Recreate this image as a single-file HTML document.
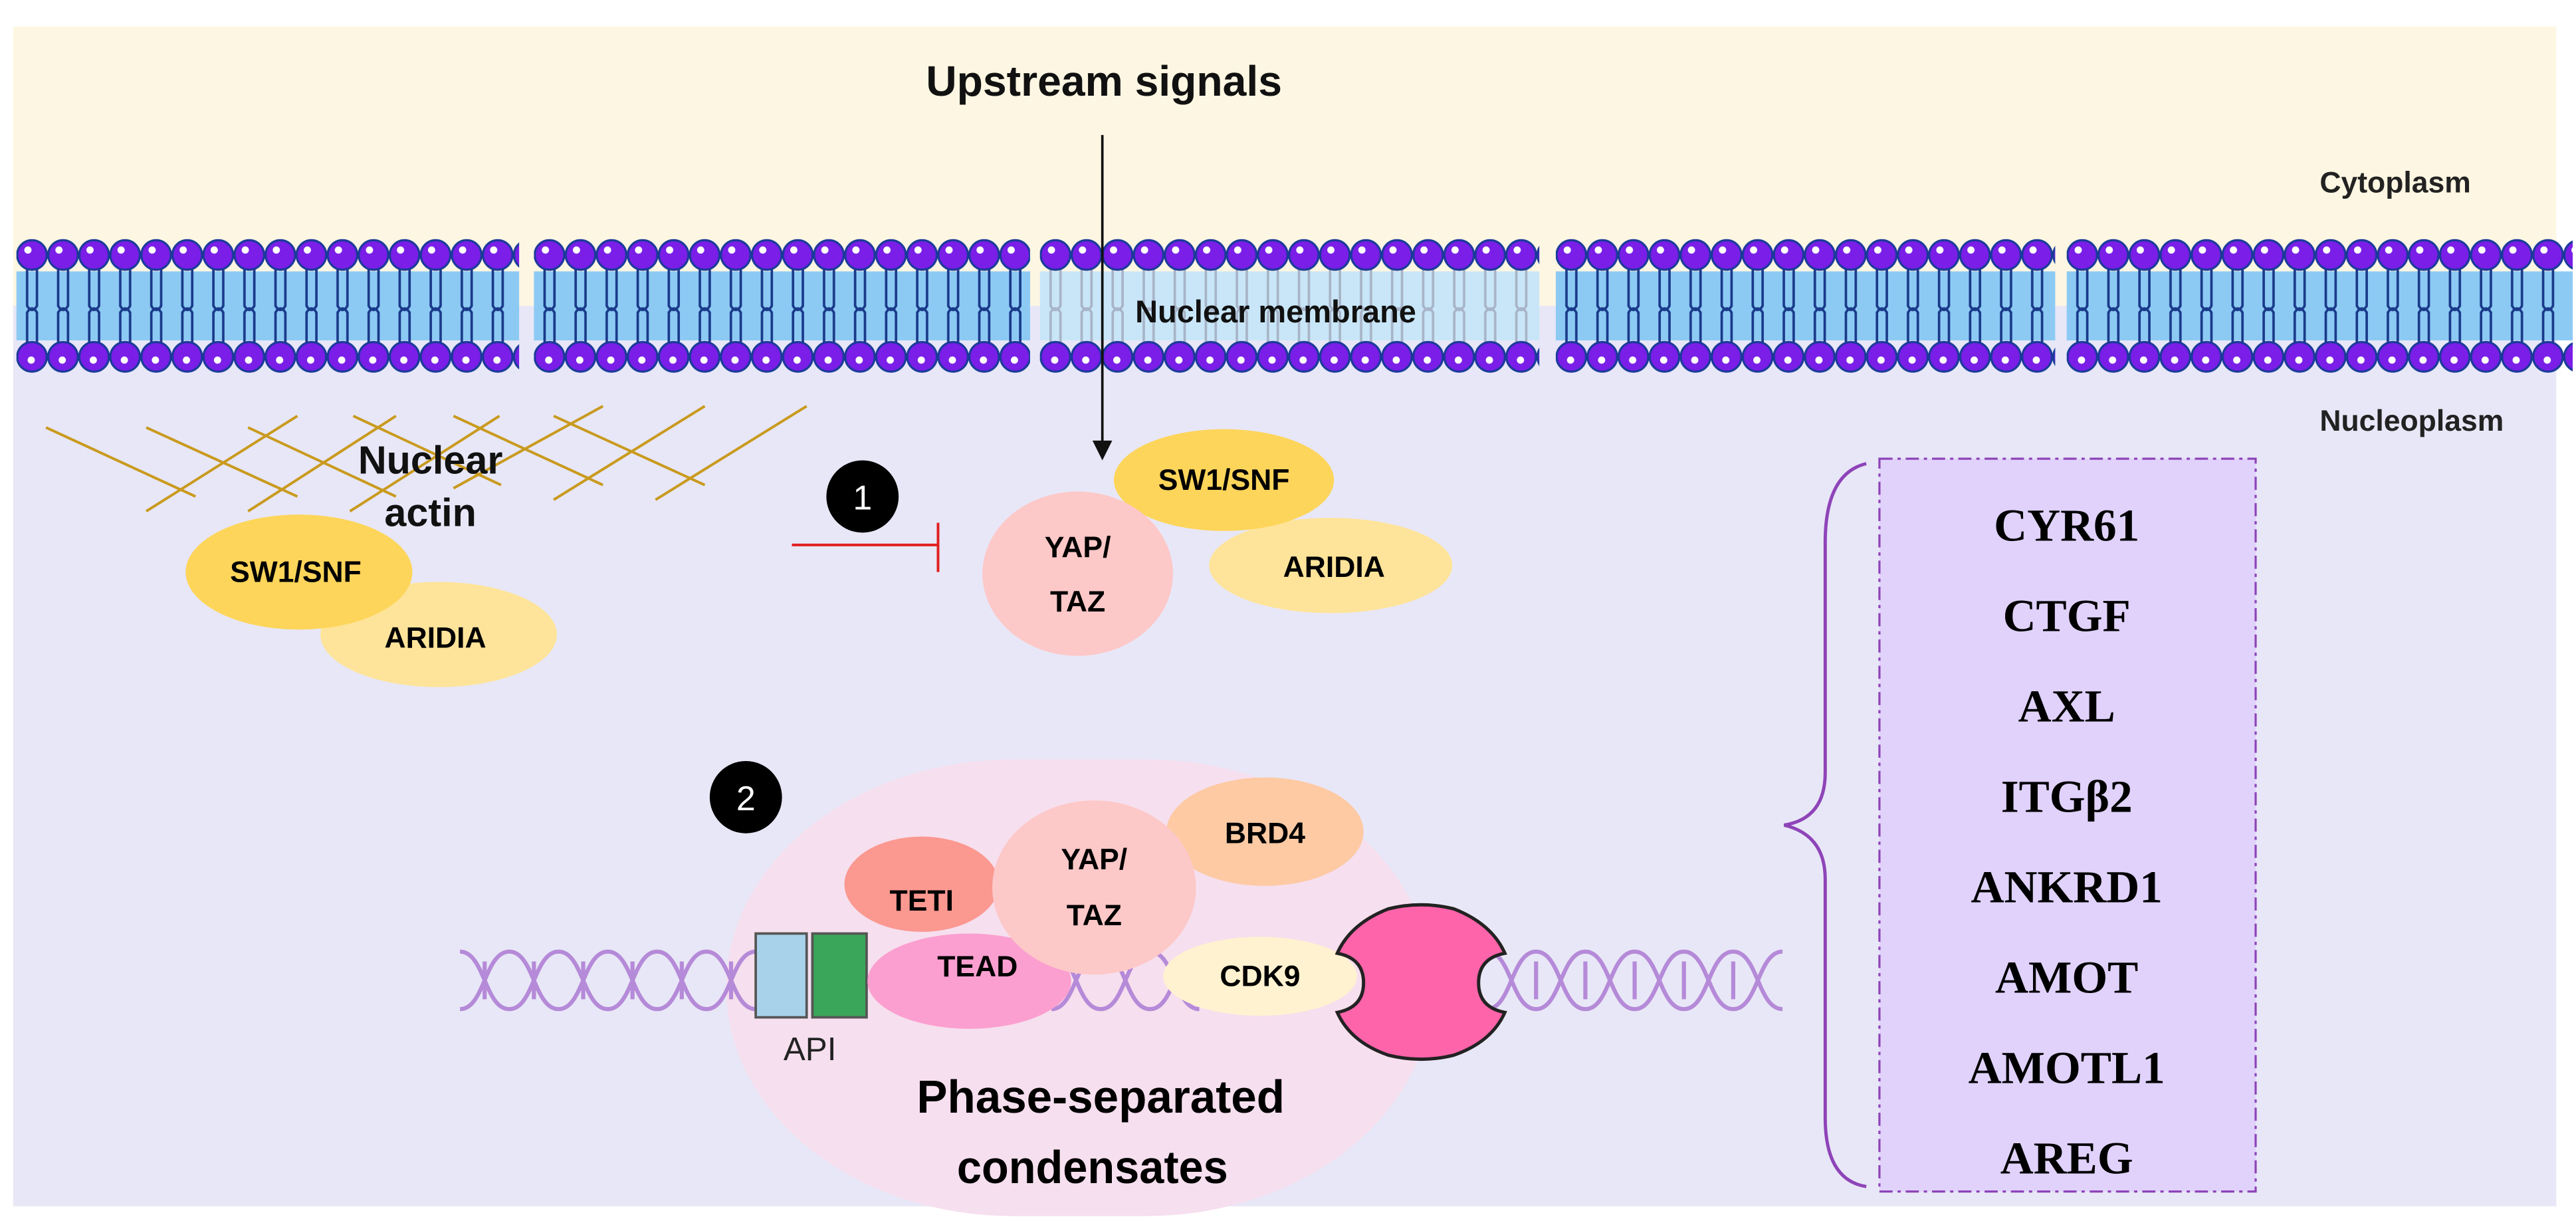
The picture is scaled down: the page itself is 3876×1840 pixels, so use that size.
<!DOCTYPE html>
<html><head><meta charset="utf-8"><style>html,body{margin:0;padding:0;background:#fff}svg{display:block}</style></head>
<body>
<svg width="3876" height="1840" viewBox="0 0 1568 744" xmlns="http://www.w3.org/2000/svg" font-family="Liberation Sans, sans-serif">
<defs>
<pattern id="lip" x="0" y="0" width="18.9" height="744" patternUnits="userSpaceOnUse">
<path d="M6.5 163 V186 q3 5 6 0 V163 M6.5 210 V190 q3 -5 6 0 V210" stroke="#1a3a8a" stroke-width="1.5" fill="none"/>
<circle cx="9.45" cy="155" r="9" fill="#7a1ee8" stroke="#1a3a9a" stroke-width="1.3"/>
<circle cx="7" cy="152" r="2.2" fill="#fff"/>
<circle cx="9.45" cy="217" r="9" fill="#7a1ee8" stroke="#1a3a9a" stroke-width="1.3"/>
<circle cx="9" cy="219" r="2.2" fill="#fff"/>
</pattern>
<pattern id="lip2" x="0" y="0" width="18.9" height="744" patternUnits="userSpaceOnUse">
<path d="M6.5 163 V186 q3 5 6 0 V163 M6.5 210 V190 q3 -5 6 0 V210" stroke="#a8b4c8" stroke-width="1.5" fill="none"/>
<circle cx="9.45" cy="155" r="9" fill="#7a1ee8" stroke="#1a3a9a" stroke-width="1.3"/>
<circle cx="7" cy="152" r="2.2" fill="#fff"/>
<circle cx="9.45" cy="217" r="9" fill="#7a1ee8" stroke="#1a3a9a" stroke-width="1.3"/>
<circle cx="9" cy="219" r="2.2" fill="#fff"/>
</pattern>
</defs>
<rect width="1568" height="744" fill="#fff"/>
<rect x="8" y="16" width="1548" height="170" fill="#fdf6e2"/>
<rect x="8" y="186" width="1548" height="548" fill="#e8e7f7"/>
<!-- membrane -->
<g transform="translate(10 0)"><rect x="0" y="165" width="306" height="42" fill="#8ccaf4"/><rect x="0" y="144" width="306" height="85" fill="url(#lip)"/></g>
<g transform="translate(325 0)"><rect x="0" y="165" width="302" height="42" fill="#8ccaf4"/><rect x="0" y="144" width="302" height="85" fill="url(#lip)"/></g>
<g transform="translate(633 0)"><rect x="0" y="165" width="304" height="42" fill="#c8e6f8"/><rect x="0" y="144" width="304" height="85" fill="url(#lip2)"/></g>
<g transform="translate(947 0)"><rect x="0" y="165" width="304" height="42" fill="#8ccaf4"/><rect x="0" y="144" width="304" height="85" fill="url(#lip)"/></g>
<g transform="translate(1258 0)"><rect x="0" y="165" width="308" height="42" fill="#8ccaf4"/><rect x="0" y="144" width="308" height="85" fill="url(#lip)"/></g>
<text x="691" y="196" font-size="19" font-weight="bold" fill="#111">Nuclear membrane</text>
<text x="672" y="58" font-size="26" font-weight="bold" text-anchor="middle" fill="#111">Upstream signals</text>
<text x="1412" y="117" font-size="18" font-weight="bold" fill="#222">Cytoplasm</text>
<text x="1412" y="262" font-size="18" font-weight="bold" fill="#222">Nucleoplasm</text>
<line x1="671" y1="82" x2="671" y2="270" stroke="#111" stroke-width="1.5"/>
<path d="M665 268 L671 280 L677 268 Z" fill="#111"/>
<!-- actin -->
<g stroke="#c99a1e" stroke-width="1.6">
<line x1="28" y1="260" x2="119" y2="302"/><line x1="89" y1="260" x2="181" y2="302"/>
<line x1="151" y1="260" x2="241" y2="302"/><line x1="215" y1="253" x2="305" y2="295"/>
<line x1="276" y1="253" x2="367" y2="295"/><line x1="337" y1="253" x2="429" y2="295"/>
<line x1="89" y1="311" x2="181" y2="253"/><line x1="151" y1="311" x2="241" y2="253"/>
<line x1="213" y1="311" x2="304" y2="253"/><line x1="276" y1="297" x2="367" y2="247"/>
<line x1="337" y1="304" x2="429" y2="247"/><line x1="399" y1="304" x2="491" y2="247"/>
</g>
<text x="262" y="288" font-size="24" font-weight="bold" text-anchor="middle" fill="#111">Nuclear</text>
<text x="262" y="320" font-size="24" font-weight="bold" text-anchor="middle" fill="#111">actin</text>
<ellipse cx="267" cy="386" rx="72" ry="32" fill="#fee49a"/>
<ellipse cx="182" cy="348" rx="69" ry="35" fill="#fdd55a"/>
<text x="180" y="354" font-size="18" font-weight="bold" text-anchor="middle">SW1/SNF</text>
<text x="265" y="394" font-size="18" font-weight="bold" text-anchor="middle">ARIDIA</text>
<!-- 1 -->
<line x1="482" y1="331.5" x2="571" y2="331.5" stroke="#e02020" stroke-width="1.6"/>
<line x1="571" y1="318" x2="571" y2="348" stroke="#e02020" stroke-width="1.6"/>
<circle cx="525" cy="302" r="22" fill="#000"/>
<text x="525" y="310" font-size="21" text-anchor="middle" fill="#fff">1</text>
<ellipse cx="810" cy="344" rx="74" ry="29" fill="#fee49a"/>
<ellipse cx="745" cy="292" rx="67" ry="31" fill="#fdd55a"/>
<ellipse cx="656" cy="349" rx="58" ry="50" fill="#fdc8c8"/>
<text x="656" y="339" font-size="18" font-weight="bold" text-anchor="middle">YAP/</text>
<text x="656" y="372" font-size="18" font-weight="bold" text-anchor="middle">TAZ</text>
<text x="745" y="298" font-size="18" font-weight="bold" text-anchor="middle">SW1/SNF</text>
<text x="812" y="351" font-size="18" font-weight="bold" text-anchor="middle">ARIDIA</text>
<!-- 2 -->
<rect x="442" y="462" width="430" height="278" rx="175" ry="140" fill="#f6dfee"/>
<circle cx="454" cy="485" r="22" fill="#000"/>
<text x="454" y="493" font-size="21" text-anchor="middle" fill="#fff">2</text>
<!-- DNA -->
<g stroke="#b58ad8" stroke-width="2.5" fill="none">
<path d="M280 579 c15 0 15 35 30 35 c15 0 15 -35 30 -35 c15 0 15 35 30 35 c15 0 15 -35 30 -35 c15 0 15 35 30 35 c15 0 15 -35 30 -35 M280 614 c15 0 15 -35 30 -35 c15 0 15 35 30 35 c15 0 15 -35 30 -35 c15 0 15 35 30 35 c15 0 15 -35 30 -35 c15 0 15 35 30 35"/>
<path d="M295 585 V608 M325 585 V608 M355 585 V608 M385 585 V608 M415 585 V608 M445 585 V608"/>
<path d="M640 579 c15 0 15 35 30 35 c15 0 15 -35 30 -35 c15 0 15 35 30 35 M640 614 c15 0 15 -35 30 -35 c15 0 15 35 30 35 c15 0 15 -35 30 -35"/>
<path d="M905 579 c15 0 15 35 30 35 c15 0 15 -35 30 -35 c15 0 15 35 30 35 c15 0 15 -35 30 -35 c15 0 15 35 30 35 c15 0 15 -35 30 -35 M905 614 c15 0 15 -35 30 -35 c15 0 15 35 30 35 c15 0 15 -35 30 -35 c15 0 15 35 30 35 c15 0 15 -35 30 -35 c15 0 15 35 30 35"/>
<path d="M935 585 V608 M965 585 V608 M995 585 V608 M1025 585 V608 M1055 585 V608"/>
</g>
<rect x="460" y="568" width="31" height="51" fill="#a8d2ea" stroke="#555" stroke-width="1.5"/>
<rect x="494.5" y="568" width="33" height="51" fill="#3aa65a" stroke="#555" stroke-width="1.5"/>
<text x="493" y="645" font-size="20" text-anchor="middle" fill="#222">API</text>
<ellipse cx="561" cy="538" rx="47" ry="29" fill="#fb9890"/>
<ellipse cx="590" cy="597" rx="62" ry="29" fill="#fb9fd0"/>
<ellipse cx="770" cy="506" rx="60" ry="33" fill="#fdcaa4"/>
<ellipse cx="666" cy="540" rx="62" ry="53" fill="#fdc8c8"/>
<ellipse cx="767" cy="594" rx="59" ry="24" fill="#fff2d0"/>
<path d="M845 553 Q865 548 885 553 Q908 562 916 580 Q900 583 900 598 Q900 613 916 616 Q908 634 885 642 Q865 647 845 642 Q822 634 814 616 Q830 613 830 598 Q830 583 814 580 Q822 562 845 553 Z" fill="#fd64aa" stroke="#222" stroke-width="2"/>
<text x="561" y="554" font-size="18" font-weight="bold" text-anchor="middle">TETI</text>
<text x="595" y="594" font-size="18" font-weight="bold" text-anchor="middle">TEAD</text>
<text x="770" y="513" font-size="18" font-weight="bold" text-anchor="middle">BRD4</text>
<text x="666" y="529" font-size="18" font-weight="bold" text-anchor="middle">YAP/</text>
<text x="666" y="563" font-size="18" font-weight="bold" text-anchor="middle">TAZ</text>
<text x="767" y="600" font-size="18" font-weight="bold" text-anchor="middle">CDK9</text>
<text x="670" y="677" font-size="28" font-weight="bold" text-anchor="middle" textLength="224" lengthAdjust="spacingAndGlyphs">Phase-separated</text>
<text x="665" y="720" font-size="28" font-weight="bold" text-anchor="middle" textLength="165" lengthAdjust="spacingAndGlyphs">condensates</text>
<!-- brace -->
<path d="M1136 282 Q1111 288 1111 330 L1111 470 Q1111 498 1086 502 Q1111 508 1111 535 L1111 680 Q1111 718 1136 722" stroke="#8e44b8" stroke-width="2" fill="none"/>
<rect x="1144" y="279" width="229" height="446" fill="#e0d2fb" stroke="#8e44b8" stroke-width="1.3" stroke-dasharray="8 3 2 3"/>
<g font-family="Liberation Serif, serif" font-weight="bold" font-size="28" text-anchor="middle">
<text x="1258" y="329">CYR61</text><text x="1258" y="384">CTGF</text><text x="1258" y="439">AXL</text>
<text x="1258" y="494">ITGβ2</text><text x="1258" y="549">ANKRD1</text><text x="1258" y="604">AMOT</text>
<text x="1258" y="659">AMOTL1</text><text x="1258" y="714">AREG</text>
</g>
</svg>
</body></html>
